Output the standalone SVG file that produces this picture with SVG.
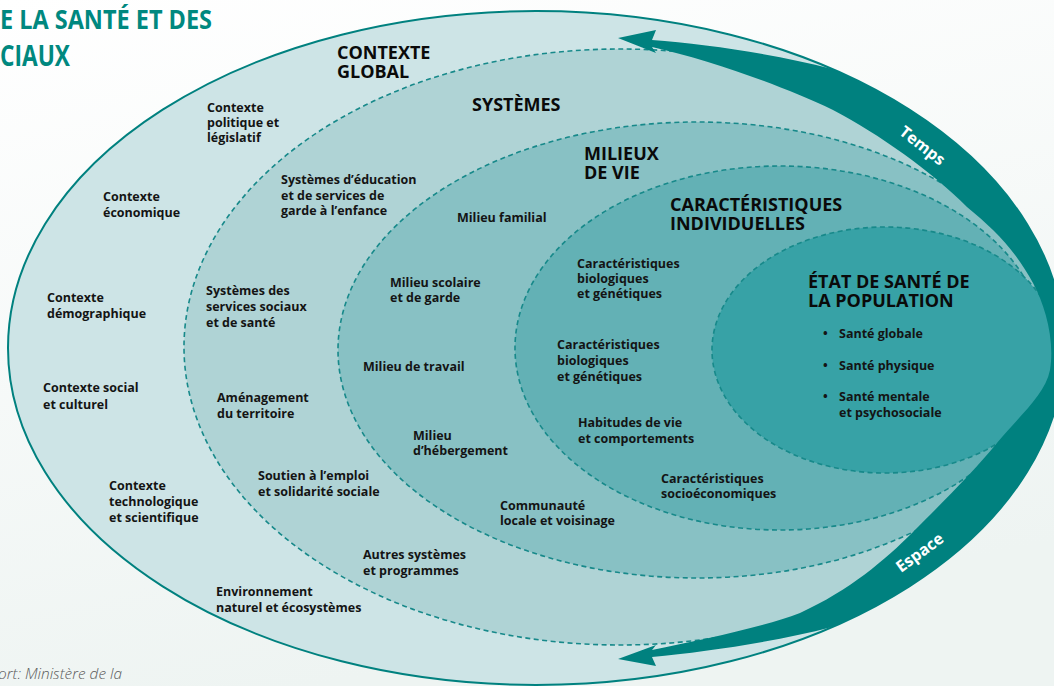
<svg xmlns="http://www.w3.org/2000/svg" width="1054" height="686" viewBox="0 0 1054 686">
<defs>
<linearGradient id="bg" x1="0" y1="0" x2="0.3" y2="1">
<stop offset="0" stop-color="#ffffff"/>
<stop offset="1" stop-color="#eef4f2"/>
</linearGradient>
</defs>
<style>
.t{font-family:"Open Sans","DejaVu Sans",sans-serif;font-weight:700;font-size:12.5px;fill:#141414}
.h{font-family:"Open Sans","DejaVu Sans",sans-serif;font-weight:700;font-size:18px;fill:#0a0a0a}
.d{stroke:#17898a;stroke-width:1.6;stroke-dasharray:5 3.5}
.w{font-family:"Open Sans","DejaVu Sans",sans-serif;font-weight:700;font-size:16px;fill:#ffffff}
</style>
<rect width="1054" height="686" fill="url(#bg)"/>
<g id="title">
<text x="0" y="29" font-family="Open Sans, sans-serif" font-weight="700" font-size="27" fill="#00887f" textLength="212" lengthAdjust="spacingAndGlyphs">E LA SANTÉ ET DES</text>
<text x="0" y="66" font-family="Open Sans, sans-serif" font-weight="700" font-size="29" fill="#00887f" textLength="70" lengthAdjust="spacingAndGlyphs">CIAUX</text>
</g>
<g id="contexte-global">
<ellipse cx="536" cy="348" rx="528" ry="337" fill="#cde4e6" stroke="#00817f" stroke-width="2"/>
<text class="h"><tspan x="337" y="59">CONTEXTE</tspan><tspan x="337" y="78">GLOBAL</tspan></text>
<text class="t"><tspan x="207" y="112">Contexte</tspan><tspan x="207" y="127">politique et</tspan><tspan x="207" y="142">législatif</tspan></text>
<text class="t"><tspan x="103" y="201">Contexte</tspan><tspan x="103" y="217">économique</tspan></text>
<text class="t"><tspan x="47" y="302">Contexte</tspan><tspan x="47" y="318">démographique</tspan></text>
<text class="t"><tspan x="43" y="392">Contexte social</tspan><tspan x="43" y="409">et culturel</tspan></text>
<text class="t"><tspan x="109" y="490">Contexte</tspan><tspan x="109" y="506">technologique</tspan><tspan x="109" y="522">et scientifique</tspan></text>
<text class="t"><tspan x="216" y="596">Environnement</tspan><tspan x="216" y="612">naturel et écosystèmes</tspan></text>
</g>
<g id="systemes">
<ellipse class="d" cx="620" cy="347" rx="436" ry="298" fill="#afd3d5"/>
<text class="h" x="472" y="111">SYSTÈMES</text>
<text class="t"><tspan x="281" y="184">Systèmes d’éducation</tspan><tspan x="281" y="200">et de services de</tspan><tspan x="281" y="215">garde à l’enfance</tspan></text>
<text class="t"><tspan x="206" y="295">Systèmes des</tspan><tspan x="206" y="311">services sociaux</tspan><tspan x="206" y="327">et de santé</tspan></text>
<text class="t"><tspan x="217" y="402">Aménagement</tspan><tspan x="217" y="418">du territoire</tspan></text>
<text class="t"><tspan x="258" y="480">Soutien à l’emploi</tspan><tspan x="258" y="496">et solidarité sociale</tspan></text>
<text class="t"><tspan x="363" y="559">Autres systèmes</tspan><tspan x="363" y="575">et programmes</tspan></text>
</g>
<g id="milieux-de-vie">
<ellipse class="d" cx="697" cy="350" rx="359" ry="228" fill="#88c1c4"/>
<text class="h"><tspan x="584" y="160">MILIEUX</tspan><tspan x="584" y="179">DE VIE</tspan></text>
<text class="t" x="457" y="222">Milieu familial</text>
<text class="t"><tspan x="390" y="287">Milieu scolaire</tspan><tspan x="390" y="302">et de garde</tspan></text>
<text class="t" x="363" y="371">Milieu de travail</text>
<text class="t"><tspan x="413" y="440">Milieu</tspan><tspan x="413" y="455">d’hébergement</tspan></text>
<text class="t"><tspan x="500" y="510">Communauté</tspan><tspan x="500" y="525">locale et voisinage</tspan></text>
</g>
<g id="caracteristiques-individuelles">
<ellipse class="d" cx="780" cy="348" rx="265" ry="182" fill="#63b1b5"/>
<text class="h"><tspan x="670" y="211">CARACTÉRISTIQUES</tspan><tspan x="670" y="230">INDIVIDUELLES</tspan></text>
<text class="t"><tspan x="577" y="268">Caractéristiques</tspan><tspan x="577" y="283">biologiques</tspan><tspan x="577" y="298">et génétiques</tspan></text>
<text class="t"><tspan x="557" y="349">Caractéristiques</tspan><tspan x="557" y="365">biologiques</tspan><tspan x="557" y="381">et génétiques</tspan></text>
<text class="t"><tspan x="578" y="427">Habitudes de vie</tspan><tspan x="578" y="443">et comportements</tspan></text>
<text class="t"><tspan x="661" y="483">Caractéristiques</tspan><tspan x="661" y="498">socioéconomiques</tspan></text>
</g>
<g id="etat-de-sante">
<ellipse class="d" cx="885" cy="350" rx="173" ry="123" fill="#37a2a6"/>
<text class="h"><tspan x="808" y="288">ÉTAT DE SANTÉ DE</tspan><tspan x="808" y="307">LA POPULATION</tspan></text>
<text class="t"><tspan x="823" y="338">•</tspan><tspan x="839" y="338">Santé globale</tspan></text>
<text class="t"><tspan x="823" y="370">•</tspan><tspan x="839" y="370">Santé physique</tspan></text>
<text class="t"><tspan x="823" y="401">•</tspan><tspan x="839" y="401">Santé mentale</tspan><tspan x="839" y="417">et psychosociale</tspan></text>
</g>
<g id="connectors">
<path fill="#00817f" d="M618,38 L656,30 L652,40 C705,44 775,54 832,69 A528 337 0 0 1 832,627 C775,642 705,652 652,657 L656,666 L618,659 L656,645 L652,650 C700,640 760,628 800,613 C850,590 885,560 913,532 C940,505 975,470 997,443 C1020,415 1045,395 1050,370 C1055,340 1045,305 1033,283 C1015,250 995,230 967,207 C930,170 880,135 833,110 C780,85 710,60 652,47 L656,53 Z"/>
<text class="w" text-anchor="middle" transform="translate(919,150) rotate(38)">Temps</text>
<text class="w" text-anchor="middle" transform="translate(923,557) rotate(-36)">Espace</text>
</g>
<g id="source">
<text x="-2" y="679" font-family="Open Sans, sans-serif" font-style="italic" font-weight="300" font-size="15" fill="#5a5a5a" textLength="124" lengthAdjust="spacingAndGlyphs">ort: Ministère de la</text>
</g>
</svg>
